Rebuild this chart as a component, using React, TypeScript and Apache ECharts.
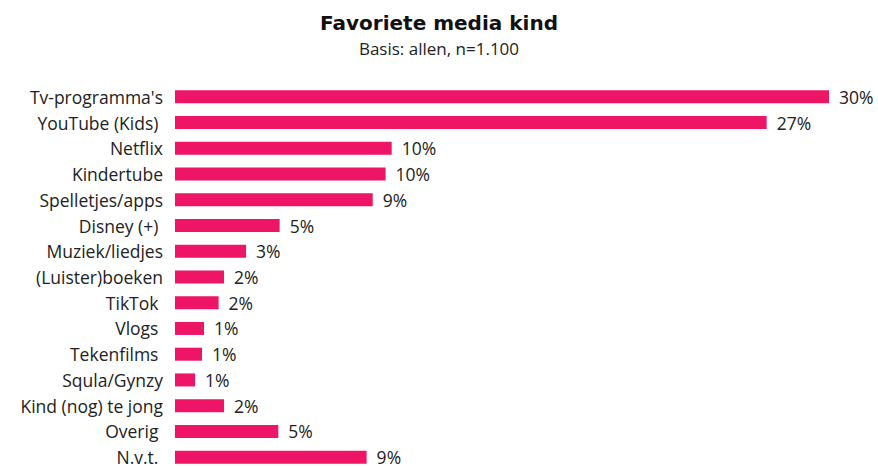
import React, { useEffect, useRef } from "react";
import * as echarts from "echarts";

const categories = [
  "Tv-programma's",
  "YouTube (Kids) ",
  "Netflix",
  "Kindertube",
  "Spelletjes/apps",
  "Disney (+) ",
  "Muziek/liedjes",
  "(Luister)boeken",
  "TikTok ",
  "Vlogs ",
  "Tekenfilms ",
  "Squla/Gynzy",
  "Kind (nog) te jong",
  "Overig ",
  "N.v.t. ",
];

const values = [30.0, 27.14, 9.94, 9.66, 9.07, 4.8, 3.26, 2.25, 2.0, 1.33, 1.24, 0.92, 2.25, 4.74, 8.79];

const titleText = "Favoriete media kind";
const subtitleText = "Basis: allen, n=1.100";

const FONT = "'Open Sans', 'Noto Sans', sans-serif";
const TITLE_FONT = "'DejaVu Sans', sans-serif";

export default function App() {
  const ref = useRef<HTMLDivElement>(null);
  useEffect(() => {
    if (!ref.current) return;
    const chart = echarts.init(ref.current, undefined, { renderer: "svg" });
    chart.setOption({
      animation: false,
      backgroundColor: "#ffffff",
      title: {
        text: titleText,
        subtext: subtitleText,
        left: "center",
        top: 8,
        itemGap: 7,
        textStyle: { fontFamily: TITLE_FONT, fontSize: 20, fontWeight: "bold", color: "#111" },
        subtextStyle: { fontFamily: FONT, fontSize: 17, color: "#222" },
      },
      grid: { left: 175, right: 5.4, top: 84, height: 386, containLabel: false },
      xAxis: { type: "value", min: 0, max: 32, show: false },
      yAxis: {
        type: "category",
        data: categories,
        inverse: true,
        axisLine: { show: false },
        axisTick: { show: false },
        splitLine: { show: false },
        axisLabel: { fontFamily: FONT, fontSize: 17.5, color: "#222", margin: 12 },
      },
      series: [
        {
          type: "bar",
          data: values,
          barWidth: 13,
          itemStyle: { color: "#EE1566" },
          label: {
            show: true,
            position: "right",
            distance: 10,
            fontFamily: FONT,
            fontSize: 17.5,
            color: "#222",
            formatter: (p: any) => Math.round(p.value) + "%",
          },
        },
      ],
    });
    return () => chart.dispose();
  }, []);
  return (
    <div style={{ position: "absolute", left: 0, top: 0, width: 878, height: 466, overflow: "hidden" }}>
      <div ref={ref} style={{ width: 878, height: 480 }} />
    </div>
  );
}
